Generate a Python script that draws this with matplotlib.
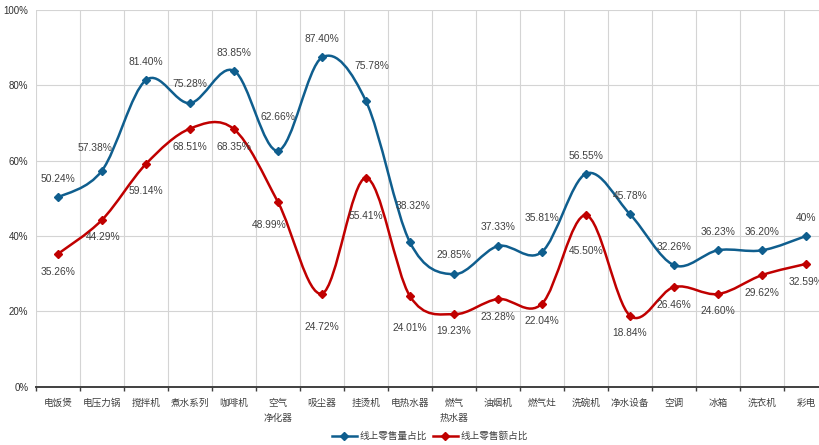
import numpy as np
import matplotlib
matplotlib.use("Agg")
import matplotlib.pyplot as plt
from matplotlib.path import Path
from matplotlib.patches import PathPatch
from matplotlib.lines import Line2D

plt.rcParams['font.family'] = ['Liberation Sans', 'Noto Sans CJK SC', 'DejaVu Sans']

categories = ['电饭煲', '电压力锅', '搅拌机', '煮水系列', '咖啡机', '空气\n净化器', '吸尘器',
              '挂烫机', '电热水器', '燃气\n热水器', '油烟机', '燃气灶', '洗碗机', '净水设备',
              '空调', '冰箱', '洗衣机', '彩电']
volume_share = [50.24, 57.38, 81.40, 75.28, 83.85, 62.66, 87.40, 75.78, 38.32,
                29.85, 37.33, 35.81, 56.55, 45.78, 32.26, 36.23, 36.20, 40.0]
value_share = [35.26, 44.29, 59.14, 68.51, 68.35, 48.99, 24.72, 55.41, 24.01,
               19.23, 23.28, 22.04, 45.50, 18.84, 26.46, 24.60, 29.62, 32.59]
volume_text = ['50.24%', '57.38%', '81.40%', '75.28%', '83.85%', '62.66%', '87.40%',
               '75.78%', '38.32%', '29.85%', '37.33%', '35.81%', '56.55%', '45.78%',
               '32.26%', '36.23%', '36.20%', '40%']
value_text = ['35.26%', '44.29%', '59.14%', '68.51%', '68.35%', '48.99%', '24.72%',
              '55.41%', '24.01%', '19.23%', '23.28%', '22.04%', '45.50%', '18.84%',
              '26.46%', '24.60%', '29.62%', '32.59%']
series_names = ['线上零售量占比', '线上零售额占比']

# label offsets in pixels (dx, dy), screen y pointing down
volume_offsets = [(0, -18), (-7, -23), (0, -18), (0, -19), (0, -18), (0, -34), (0, -18),
                  (6, -35), (3, -36), (0, -19), (0, -19), (0, -34), (0, -18), (0, -18),
                  (0, -18), (0, -18), (0, -18), (0, -18)]
value_offsets = [(0, 18), (1, 17), (0, 27), (0, 18), (0, 18), (-9, 23), (0, 33),
                 (0, 38), (0, 32), (0, 17), (0, 18), (0, 17), (0, 36), (0, 17),
                 (0, 18), (0, 17), (0, 18), (0, 18)]

BLUE = '#0F5E8E'
RED = '#C00000'
TEXT = '#404040'


def smooth_path(x, y):
    """Cubic Bezier path through the points, Catmull-Rom style tangents."""
    n = len(x)
    verts = [(x[0], y[0])]
    codes = [Path.MOVETO]
    for i in range(n - 1):
        x0, y0 = (x[i - 1], y[i - 1]) if i > 0 else (x[i], y[i])
        x3, y3 = (x[i + 2], y[i + 2]) if i + 2 < n else (x[i + 1], y[i + 1])
        c1 = (x[i] + (x[i + 1] - x0) / 6, y[i] + (y[i + 1] - y0) / 6)
        c2 = (x[i + 1] - (x3 - x[i]) / 6, y[i + 1] - (y3 - y[i]) / 6)
        verts += [c1, c2, (x[i + 1], y[i + 1])]
        codes += [Path.CURVE4] * 3
    return Path(verts, codes)


fig = plt.figure(figsize=(8.2, 4.45), dpi=100)
ax = fig.add_axes([36 / 820, (445 - 386.7) / 445, 792 / 820, 376.7 / 445])

xs = np.arange(len(categories))
for vals, color, texts, offs in [(volume_share, BLUE, volume_text, volume_offsets),
                                 (value_share, RED, value_text, value_offsets)]:
    ax.add_patch(PathPatch(smooth_path(xs, vals), facecolor='none', edgecolor=color,
                           lw=1.8, zorder=3, capstyle='round', joinstyle='round'))
    ax.plot(xs, vals, ls='none', marker='D', ms=4.4, color=color, zorder=4)
    for xi, v, t, (dx, dy) in zip(xs, vals, texts, offs):
        ax.annotate(t, (xi, v), xytext=(dx * 0.72, -dy * 0.72), textcoords='offset points',
                    ha='center', va='center', fontsize=7.4, color=TEXT, zorder=5)

ax.set_xlim(-0.5, len(categories) - 0.5)
ax.set_ylim(0, 100)
ax.set_yticks(np.arange(0, 101, 20))
ax.set_yticklabels([f'{v}%' for v in range(0, 101, 20)])
ax.set_xticks(xs)
ax.set_xticklabels(categories, linespacing=1.6)
ax.set_xticks(np.arange(-0.5, len(categories)), minor=True)

ax.grid(False)
for gx in np.arange(-0.5, len(categories)):
    ax.axvline(gx, color='#D4D4D4', lw=0.8, zorder=1)
for gy in range(20, 101, 20):
    ax.axhline(gy, color='#D4D4D4', lw=0.8, zorder=1)

for side in ['top', 'right', 'left']:
    ax.spines[side].set_visible(False)
ax.spines['bottom'].set_color('#404040')
ax.spines['bottom'].set_linewidth(1.4)

ax.tick_params(axis='x', which='major', length=0, pad=8, labelsize=6.9, labelcolor=TEXT)
ax.tick_params(axis='x', which='minor', length=3, width=1, color='#404040', direction='out')
ax.tick_params(axis='y', length=0, pad=5.5, labelsize=7.0, labelcolor='#303030')

handles = [Line2D([], [], color=BLUE, lw=1.8, marker='D', ms=4.4),
           Line2D([], [], color=RED, lw=1.8, marker='D', ms=4.4)]
fig.legend(handles, series_names, loc='center', bbox_to_anchor=(430 / 820, 9 / 445),
           ncol=2, frameon=False, fontsize=6.9, handlelength=2.6, columnspacing=0.6,
           handletextpad=0.3, labelcolor=TEXT)

fig.savefig('out.png', dpi=100)
